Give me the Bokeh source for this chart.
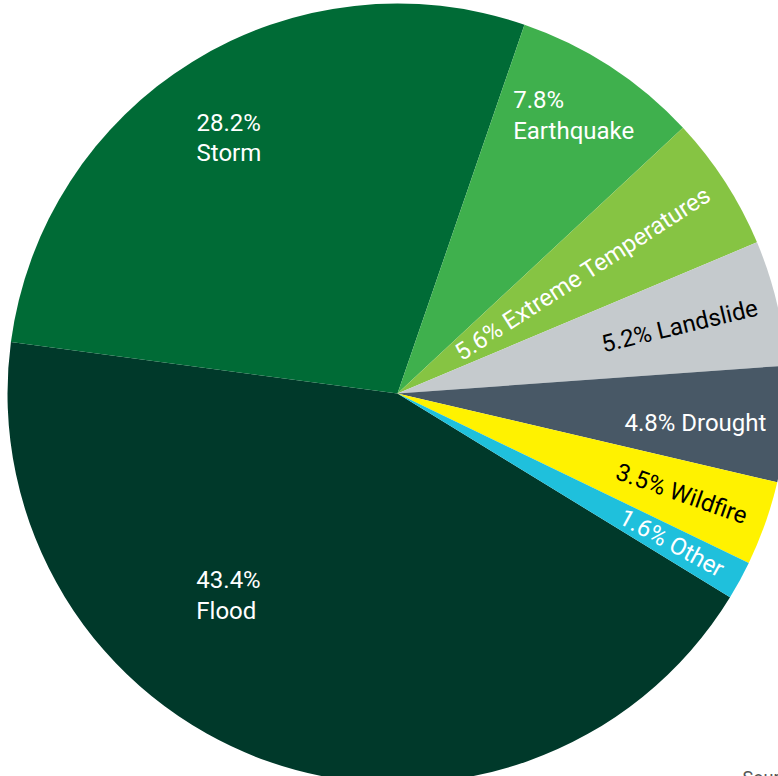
import numpy as np
from bokeh.plotting import figure
from bokeh.models import Range1d, ColumnDataSource
from bokeh.core.properties import value
from bokeh.embed import file_html
from bokeh.resources import INLINE

categories = ["Flood", "Storm", "Earthquake", "Extreme Temperatures",
              "Landslide", "Drought", "Wildfire", "Other"]
shares = [43.4, 28.2, 7.8, 5.6, 5.2, 4.8, 3.5, 1.6]
slice_colors = ["#00392A", "#006B36", "#3FB04D", "#86C443",
                "#C5CACD", "#485866", "#FFF200", "#1FC0DC"]
text_colors = ["white", "white", "white", "white",
               "black", "white", "black", "white"]

W, H = 778, 776
cx, cy, R = 397, H - 393, 390
start_deg = -31.5  # Flood begins here, slices run clockwise

p = figure(width=W, height=H, output_backend="svg", toolbar_location=None,
           x_range=Range1d(0, W), y_range=Range1d(0, H), min_border=0)
p.axis.visible = False
p.grid.visible = False
p.outline_line_color = None
p.background_fill_color = "white"
p.border_fill_color = "white"

total = sum(shares)
frac = np.array(shares) / total
cum = np.concatenate([[0], np.cumsum(frac)])
starts = np.deg2rad(start_deg) - cum[:-1] * 2 * np.pi
ends = np.deg2rad(start_deg) - cum[1:] * 2 * np.pi
mids = (starts + ends) / 2

src = ColumnDataSource(dict(start=starts, end=ends, color=slice_colors))
p.wedge(x=cx, y=cy, radius=R, start_angle="start", end_angle="end",
        direction="clock", fill_color="color", line_color=None, source=src)

font = value("Roboto")
fs = "24px"

# horizontal block labels (left aligned): polar anchor (radius, angle deg)
block_anchor = {"Flood": (285, 225.1), "Storm": (325, 128.2), "Earthquake": (301, 67.4)}
for i, c in enumerate(categories):
    label = f"{shares[i]}%"
    if c in block_anchor:
        r, a = block_anchor[c]
        a = np.deg2rad(a)
        p.text(x=[cx + r * np.cos(a)], y=[cy + r * np.sin(a)],
               text=[label + "\n" + c], text_align="left", text_baseline="middle",
               text_color=text_colors[i], text_font=font, text_font_size=fs,
               text_line_height=1.1)
    else:
        r = 370
        rot = 0.0 if c == "Drought" else mids[i]
        p.text(x=[cx + r * np.cos(mids[i])], y=[cy + r * np.sin(mids[i])],
               text=[label + " " + c], angle=[rot], text_align="right",
               text_baseline="middle", text_color=text_colors[i],
               text_font=font, text_font_size=fs)

p.text(x=[742], y=[H - 766], text=["Source"], text_align="left",
       text_baseline="top", text_color="#555555", text_font=font,
       text_font_size="18px")

open("out.html", "w").write(file_html(p, INLINE))
